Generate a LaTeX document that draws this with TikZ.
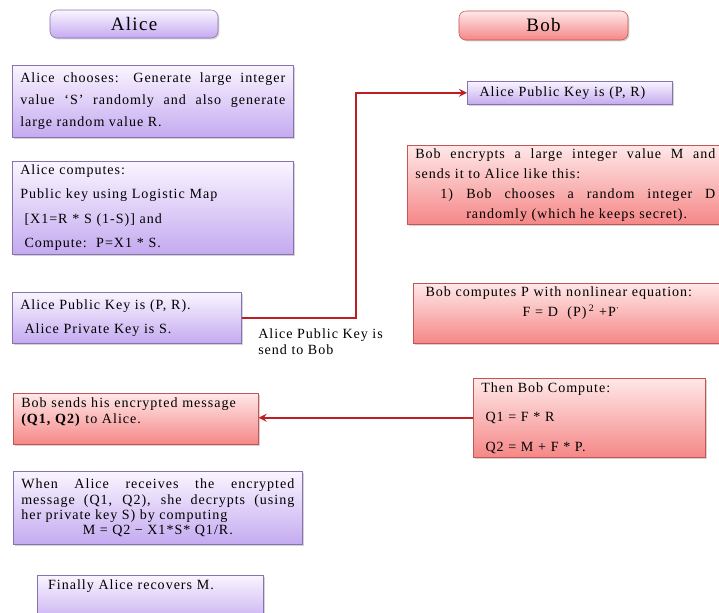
\documentclass[tikz,border=0pt]{standalone}
\usepackage{xcolor}
\usepackage{fontspec}
\setmainfont{Liberation Serif}[LetterSpace=7]
\usepackage{tikz}
\usetikzlibrary{arrows, positioning, calc, shadows}

\definecolor{alicetop}{RGB}{250,245,255}
\definecolor{alicebot}{RGB}{196,170,240}
\definecolor{alicedraw}{RGB}{135,115,175}
\definecolor{bobtop}{RGB}{255,232,232}
\definecolor{bobbot}{RGB}{245,135,135}
\definecolor{bobdraw}{RGB}{195,85,85}
\definecolor{linkred}{RGB}{190,30,35}

\begin{document}
\begin{tikzpicture}[
    x=0.025cm, y=-0.025cm,
    title/.style={rectangle, draw=#1draw, rounded corners=5pt, top color=#1top, bottom color=#1bot, minimum width=4.2cm, minimum height=0.7cm, font=\fontsize{13.5}{15}\selectfont, drop shadow={opacity=0.35, shadow xshift=1pt, shadow yshift=-1pt}},
    msg/.style={rectangle, draw=#1draw, top color=#1top, bottom color=#1bot, anchor=north west, inner xsep=0.2cm, inner ysep=2pt, align=left, drop shadow={opacity=0.35, shadow xshift=1pt, shadow yshift=-1pt}},
    note/.style={anchor=north west, inner sep=0pt, align=left, font=\fontsize{10}{11.4}\selectfont},
    arrow/.style={->, >=stealth, line width=1.5pt, color=linkred}
]

\useasboundingbox (0,0) rectangle (719,613);
\clip (0,0) rectangle (719,613);

% Titles
\node[title=alice] (alice) at (134,24) {Alice};
\node[title=bob, minimum width=4.225cm, minimum height=0.725cm] (bob) at (543.5,25.5) {Bob};

% Alice side
\node[msg=alice, text width=6.625cm, minimum height=1.8cm, align=justify, font=\fontsize{10}{15.6}\selectfont] (alice_choose) at (12,65) {Alice chooses: Generate large integer\linebreak value `S' randomly and also generate\linebreak large random value R.};

\node[msg=alice, text width=6.625cm, minimum height=2.325cm, font=\fontsize{10}{17.4}\selectfont] (alice_compute) at (12,161) {Alice computes:\\Public key using Logistic Map\\\hspace*{3pt}[X1=R * S (1-S)] and\\\hspace*{3pt}Compute:\ \ P=X1 * S.};

\node[msg=alice, text width=5.325cm, minimum height=1.275cm, font=\fontsize{10}{17}\selectfont] (alice_keys) at (12,292) {Alice Public Key is (P, R).\\\hspace*{3pt}Alice Private Key is S.};

\node[note] (send_label) at (258,328) {Alice Public Key is\\send to Bob};

% Bob side
\node[msg=alice, text width=4.725cm, minimum height=0.575cm, font=\fontsize{10}{12}\selectfont] (bob_gets) at (467,81) {\hspace*{3pt}Alice Public Key is (P, R)};

\node[msg=bob, text width=7.5cm, minimum height=1.975cm, align=justify, font=\fontsize{10}{14.2}\selectfont] (bob_encrypt) at (407,145) {Bob encrypts a large integer value M and\linebreak sends it to Alice like this:\par{\leftskip=1.275cm\noindent\llap{1)\hspace{0.33cm}}Bob chooses a random integer D\linebreak randomly (which he keeps secret).\par}};

\node[msg=bob, text width=7.5cm, minimum height=1.5cm, font=\fontsize{10}{14.2}\selectfont] (bob_compute) at (413,283) {\hspace*{3pt}Bob computes P with nonlinear equation:\par{\centering F = D\ \ (P)\,\textsuperscript{2} +P\textsuperscript{·}\rule[-16pt]{0pt}{16pt}\par}};

\node[msg=bob, text width=5.4cm, minimum height=1.975cm, font=\fontsize{10}{21}\selectfont] (bob_q) at (473,378) {Then Bob Compute:\\\hspace*{3pt}Q1 = F * R\\\hspace*{3pt}Q2 = M + F * P.};

% Back on Alice side
\node[msg=bob, text width=5.725cm, minimum height=1.275cm, font=\fontsize{10}{11.4}\selectfont] (alice_gets) at (13,393) {Bob sends his encrypted message\\\textbf{(Q1, Q2)} to Alice.\rule[-12pt]{0pt}{12pt}};

\node[msg=alice, text width=6.825cm, minimum height=1.825cm, align=justify, font=\fontsize{10}{10.7}\selectfont] (alice_decrypt) at (13,471) {When Alice receives the encrypted\linebreak message (Q1, Q2), she decrypts (using\linebreak her private key S) by computing\par{\centering M = Q2 − X1*S* Q1/R.\par}};

\node[msg=alice, text width=5.25cm, minimum height=1.25cm, font=\fontsize{10}{12}\selectfont] (alice_done) at (37,575) {\hspace*{2pt}Finally Alice recovers M.\rule[-22pt]{0pt}{22pt}};

% Arrows
\coordinate (up_turn) at ([xshift=2.85cm]alice_keys.east);
\draw[arrow] (alice_keys.east) -- (up_turn) |- (bob_gets.west);
\draw[arrow] (bob_q.west) -- (bob_q.west -| alice_gets.east);

\end{tikzpicture}
\end{document}
